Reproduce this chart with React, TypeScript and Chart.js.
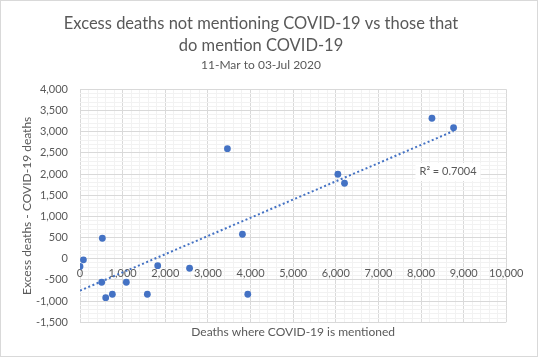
import React, { useEffect, useRef } from 'react';
import { Chart, registerables } from 'chart.js';

Chart.register(...registerables);

// Deaths where COVID-19 is mentioned (x)
const mentionedDeaths = [0, 80, 524, 509, 603, 759, 1087, 1580, 1823, 2570, 3458, 3810, 3936, 6049, 6205, 8256, 8763];
// Excess deaths - COVID-19 deaths (y)
const excessMinusCovid = [-180, -25, 484, -555, -918, -838, -555, -838, -163, -224, 2599, 578, -838, 1995, 1782, 3317, 3095];

const titleLines = ['Excess deaths not mentioning COVID-19 vs those that', 'do mention COVID-19'];
const subtitleText = '11-Mar to 03-Jul 2020';
const xTitle = 'Deaths where COVID-19 is mentioned';
const yTitle = 'Excess deaths - COVID-19 deaths';
const r2Text = 'R² = 0.7004';
const r2Pos = [8633, 2049];

const xRange = [0, 10000];
const yRange = [-1500, 4000];
const xMajor = 1000;
const xMinor = 200;
const yMajor = 500;
const yMinor = 100;

const TEXT = '#595959';
const MAJOR = '#d9d9d9';
const MINOR = '#f2f2f2';
const BLUE = '#4472C4';
const FONT = 'Lato';

const PAD_LEFT = 15.7;
const PAD_RIGHT = 31.7;

function fmt(v: number) {
  return Math.round(v).toLocaleString('en-US');
}

function regression(xs: number[], ys: number[]) {
  const n = xs.length;
  const mx = xs.reduce((a, b) => a + b, 0) / n;
  const my = ys.reduce((a, b) => a + b, 0) / n;
  let sxy = 0;
  let sxx = 0;
  for (let i = 0; i < n; i++) {
    sxy += (xs[i] - mx) * (ys[i] - my);
    sxx += (xs[i] - mx) * (xs[i] - mx);
  }
  const slope = sxy / sxx;
  return { slope, intercept: my - slope * mx };
}

export default function App() {
  const ref = useRef<HTMLCanvasElement>(null);

  useEffect(() => {
    document.body.style.margin = '0';
    const canvas = ref.current;
    if (!canvas) return;

    const points = mentionedDeaths.map((x, i) => ({ x, y: excessMinusCovid[i] }));
    const { slope, intercept } = regression(mentionedDeaths, excessMinusCovid);
    const xmin = Math.min(...mentionedDeaths);
    const xmax = Math.max(...mentionedDeaths);
    const trend = [
      { x: xmin, y: intercept + slope * xmin },
      { x: xmax, y: intercept + slope * xmax },
    ];

    const framePlugin = {
      id: 'frame',
      beforeDraw(chart: any) {
        const c = chart.ctx;
        c.save();
        c.fillStyle = '#ffffff';
        c.fillRect(0, 0, chart.width, chart.height);
        c.restore();
      },
      afterDraw(chart: any) {
        const c = chart.ctx;
        c.save();
        c.strokeStyle = MAJOR;
        c.lineWidth = 1;
        c.strokeRect(0.5, 0.5, chart.width - 1, chart.height - 1);
        c.restore();
      },
      afterDatasetsDraw(chart: any) {
        const c = chart.ctx;
        const px = chart.scales.x.getPixelForValue(r2Pos[0]);
        const py = chart.scales.y.getPixelForValue(r2Pos[1]);
        c.save();
        c.font = `11px ${FONT}`;
        const w = c.measureText(r2Text).width;
        c.fillStyle = '#ffffff';
        c.fillRect(px - w / 2 - 4, py - 9, w + 8, 18);
        c.fillStyle = TEXT;
        c.textAlign = 'center';
        c.textBaseline = 'middle';
        c.fillText(r2Text, px, py);
        c.restore();
      },
    };

    const chart = new Chart(canvas, {
      type: 'scatter',
      data: {
        datasets: [
          {
            label: 'Trend',
            data: trend,
            showLine: true,
            borderColor: BLUE,
            borderWidth: 2,
            borderDash: [2, 2.5],
            pointRadius: 0,
            fill: false,
          } as any,
          {
            label: 'Areas',
            data: points,
            backgroundColor: BLUE,
            borderColor: BLUE,
            borderWidth: 0,
            pointRadius: 3.4,
          },
        ],
      },
      options: {
        responsive: false,
        animation: false,
        devicePixelRatio: 1,
        layout: { padding: { left: PAD_LEFT, right: PAD_RIGHT, top: 0, bottom: 0 } },
        font: { family: FONT },
        color: TEXT,
        plugins: {
          legend: { display: false },
          tooltip: { enabled: false },
          title: {
            display: true,
            text: titleLines,
            color: TEXT,
            font: { family: FONT, size: 16.5, weight: 'normal', lineHeight: 22.4 / 16.5 },
            padding: { top: 12, bottom: 0 },
          },
          subtitle: {
            display: true,
            text: subtitleText,
            color: TEXT,
            font: { family: FONT, size: 12, weight: 'normal', lineHeight: 1.2 },
            padding: { top: 1, bottom: 17.1 },
          },
        },
        scales: {
          x: {
            type: 'linear',
            position: 'bottom',
            min: xRange[0],
            max: xRange[1],
            ticks: { display: false, stepSize: xMinor, autoSkip: false },
            grid: {
              drawTicks: false,
              color: (ctx: any) => (ctx.tick && ctx.tick.value % xMajor === 0 ? MAJOR : MINOR),
            },
            border: { display: false },
            title: {
              display: true,
              text: xTitle,
              color: TEXT,
              font: { family: FONT, size: 12 },
              padding: { top: 0, bottom: 17.8 },
            },
            afterFit: (s: any) => {
              s.height = 34.7;
            },
          },
          x2: {
            type: 'linear',
            position: { y: 0 } as any,
            min: xRange[0],
            max: xRange[1],
            ticks: {
              stepSize: xMajor,
              autoSkip: false,
              maxRotation: 0,
              color: TEXT,
              font: { family: FONT, size: 11 },
              padding: 8,
              callback: (v: any) => fmt(Number(v)),
            },
            grid: { display: false, drawTicks: false },
            border: { display: false },
          },
          y: {
            type: 'linear',
            position: 'left',
            min: yRange[0],
            max: yRange[1],
            ticks: {
              stepSize: yMinor,
              autoSkip: false,
              color: TEXT,
              font: { family: FONT, size: 11 },
              padding: 12,
              callback: (v: any) => (Number(v) % yMajor === 0 ? fmt(Number(v)) : ''),
            },
            grid: {
              drawTicks: false,
              color: (ctx: any) => (ctx.tick && ctx.tick.value % yMajor === 0 ? MAJOR : MINOR),
            },
            border: { display: false },
            title: {
              display: true,
              text: yTitle,
              color: TEXT,
              font: { family: FONT, size: 12 },
              padding: { top: 4.1, bottom: 4.1 },
            },
            afterFit: (s: any) => {
              s.width = 80 - PAD_LEFT;
            },
          },
        },
      } as any,
      plugins: [framePlugin],
    });

    return () => chart.destroy();
  }, []);

  return (
    <div style={{ width: 538, height: 357 }}>
      <canvas ref={ref} width={538} height={357} style={{ display: 'block' }} />
    </div>
  );
}
